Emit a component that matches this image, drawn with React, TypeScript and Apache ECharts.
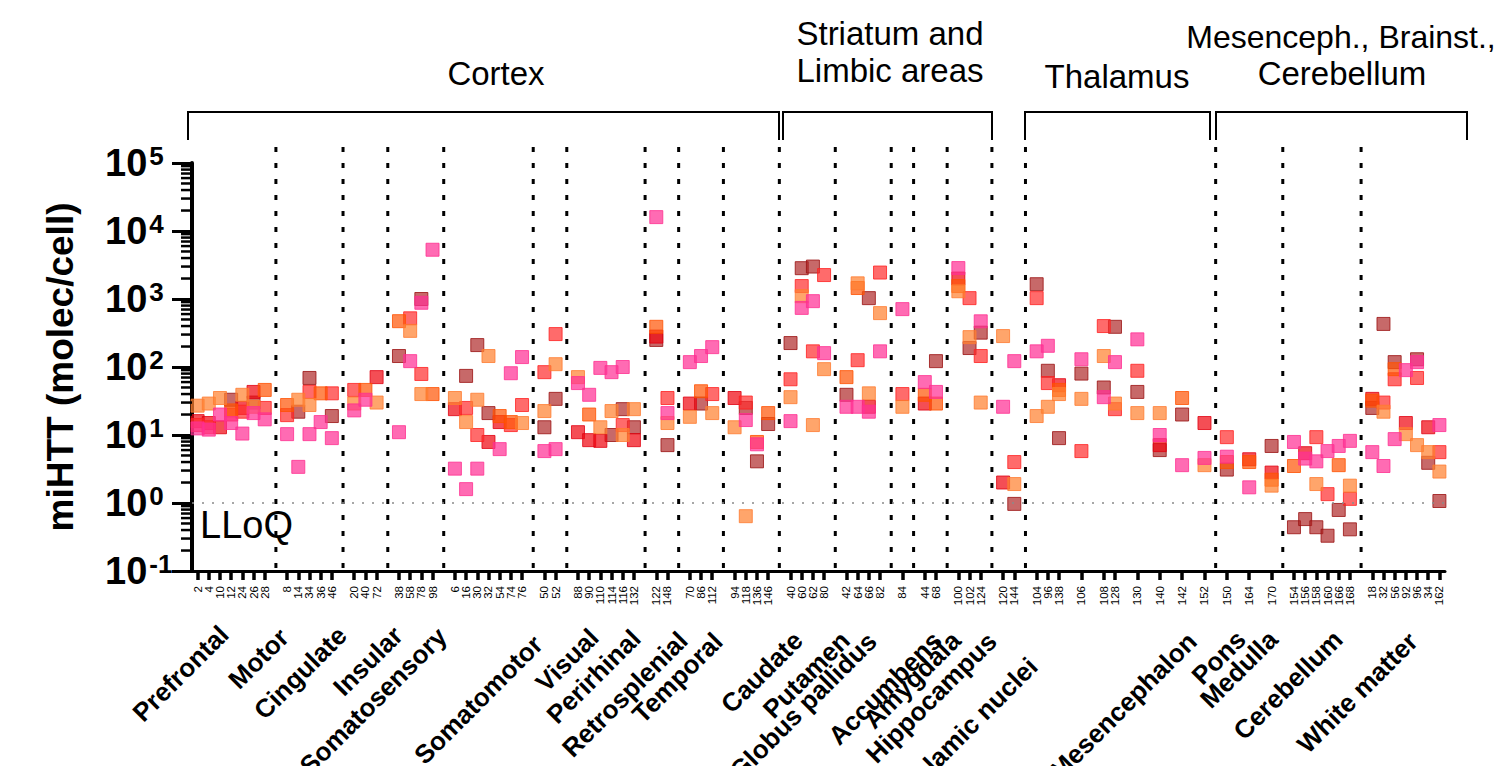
import React, { useEffect, useRef } from "react";
import * as echarts from "echarts";

const FONT = "'Liberation Sans', Arial, Helvetica, sans-serif";
const n = null;

// Sample IDs (x tick labels), one array per column group
const catGroups: string[][] = [
  ["2", "4", "10", "12", "24", "26", "28"],
  ["8", "14", "34", "36", "46"],
  ["20", "40", "72"],
  ["38", "58", "78", "98"],
  ["6", "16", "30", "32", "54", "74", "76"],
  ["50", "52"],
  ["88", "90", "110", "114", "116", "132"],
  ["122", "148"],
  ["70", "86", "112"],
  ["94", "118", "136", "146"],
  ["40", "60", "62", "80"],
  ["42", "64", "66", "82"],
  ["84"],
  ["44", "68"],
  ["100", "102", "124"],
  ["120", "144"],
  ["104", "96", "138"],
  ["106"],
  ["108", "128"],
  ["130"],
  ["140"],
  ["142"],
  ["152"],
  ["150"],
  ["164"],
  ["170"],
  ["154", "156", "158", "160", "166", "168"],
  ["18", "32", "56", "92", "96", "34", "162"],
];

// Region names (bottom, rotated 45°) and the end point of each label
const regionNames = [
  "Prefrontal", "Motor", "Cingulate", "Insular", "Somatosensory", "Somatomotor",
  "Visual", "Perirhinal", "Retrosplenial", "Temporal", "Caudate", "Putamen",
  "Globus pallidus", "Accumbens", "Amygdala", "Hippocampus", "Thalamic nuclei",
  "Mesencephalon", "Pons", "Medulla", "Cerebellum", "White matter",
];
const regionAnchors: [number, number][] = [
  [224, 630], [284, 633], [342, 631], [398, 631], [442, 632], [538, 640],
  [594, 633], [636, 634], [683, 636], [718, 637], [798, 636], [845, 636],
  [872, 637], [937, 636], [956, 636], [992, 637], [1033, 662],
  [1192, 637], [1241, 635], [1273, 635], [1338, 635], [1413, 637],
];

// Separator positions (slot index of the gaps between regions)
const separatorSlots = [7.4, 13, 17, 22, 30, 33, 40, 43, 47, 52, 57, 62, 64, 67, 71, 74, 91, 97, 104];

// miHTT values (molecules/cell), one array per animal, in sample order
const darkRed = [n, n, n, 33, n, 30, n, n, 22, 69, n, 19, n, n, n, 145, n, 1000, n, n, 74, 210, 21, n, n, n, 13, 34, n, n, n, 10, 24, 13, 250, 7.1, n, 29, n, n, 25, 4.1, 14.5, 225, 2840, 3000, n, 39, n, 1030, n, n, n, 122, n, 190, 320, n, 0.97, 1650, 88, 9, 80, 50, 390, 43, 6, 20, n, 3.1, n, 6.9, 0.44, 0.58, 0.44, 0.33, 0.79, 0.41, 25, 430, 118, n, 130, 3.9, 1.07];
const red = [16, 15, 13, n, 25, 43, n, n, n, n, n, n, n, n, 71, n, n, n, n, 24, n, n, 7.9, 15.5, n, n, n, n, 11, 8.4, 8.2, n, n, 8.4, 280, n, 29, n, n, 35, n, n, n, n, n, n, n, n, n, 26, n, n, 29, n, 2000, n, n, 2.0, n, n, n, 54, n, n, n, n, 7.1, n, 15, n, 4.4, 2.8, n, 5.4, n, n, n, n, 34, n, n, 15, n, 13, n];
const coral = [14, 13, n, 20, 22, n, 25, 19.6, n, 43, n, 41, 46, n, n, n, 520, 79, n, n, 25, 10, n, n, 14, 27.6, 84, 305, n, n, n, n, 14, n, n, 35, n, n, 40, n, 30, n, n, 66, 1550, 170, 2250, n, 126, n, 2450, 40, n, n, n, 1030, 145, n, 4.0, 1030, 58, n, 5.8, 400, 24, 88, n, n, n, 9.3, n, n, n, n, 9.3, 1.35, n, 1.15, n, 30, 66, n, 69, n, 5.6];
const orangeRed = [n, n, n, 23, n, n, 46, 27.6, n, n, 41, n, n, 46, n, 472, n, n, 40, n, n, n, n, 19, 15.5, n, n, n, n, 20, n, n, n, n, 390, n, n, 44, n, n, n, 7.9, 21, n, n, n, n, 71, 1450, n, n, n, 39, 29, 1550, n, n, n, n, n, n, 46, n, n, n, n, n, 35, n, 4, 4, 2.2, 3.5, n, n, n, 3.6, n, 32, n, 93, n, n, n, n];
const orange = [27, 29, 35, n, 39, 26, n, n, 33, 27.6, n, n, 29, n, 30, n, 340, 40, n, 35, 15.5, 33, 145, n, n, 15, 22.5, 110, 71, n, 13, 22.5, 10, 24, n, 15, 18.5, n, 21, 13, 0.64, n, n, 36, 1100, 14, 93, n, 1700, 41, 620, 26, n, n, 1300, 275, 30, 285, 1.9, 19, 26, 40, 34, 145, 29, 21, 21, n, 3.6, n, n, 1.8, n, n, 1.9, n, n, 1.8, n, 22, n, 10.3, 7.1, 5.6, 2.9];
const pink = [12.5, 12, 20, 15, 10.5, 21, 17, 10.3, 3.4, 10.3, 15.5, 9, 23, 33, n, 11, 122, 880, 5300, 3.2, 1.6, 3.2, n, 6.2, 81, 140, 5.8, 6.2, 58, 39, 97, 84, 100, n, 16000, 21, 118, 145, 196, n, 16.6, 7.3, n, 16, 740, 930, 160, 26, 26, 22, 170, 710, 60, 43, 2850, n, 470, 26, 122, 170, 205, n, 130, 36, 118, 255, 10, 3.6, 4.6, 4.8, 1.7, n, 7.9, 4.5, 4.1, 5.8, 6.9, 8.2, 5.6, 3.5, 8.7, 90, 118, n, 14];

const animals = [
  { name: "Animal A", values: darkRed, fill: "rgba(172,34,34,0.85)", stroke: "#9a1010" },
  { name: "Animal B", values: red, fill: "rgba(240,10,20,0.9)", stroke: "#e00010" },
  { name: "Animal C", values: coral, fill: "rgba(255,45,45,0.88)", stroke: "#ff2020" },
  { name: "Animal D", values: orangeRed, fill: "rgba(255,85,5,0.88)", stroke: "#ff5000" },
  { name: "Animal E", values: orange, fill: "rgba(255,130,50,0.9)", stroke: "#ff7a30" },
  { name: "Animal F", values: pink, fill: "rgba(255,50,150,0.9)", stroke: "#ff3090" },
];

const yTickValues = [0.1, 1, 10, 100, 1000, 10000];
const minorMultipliers = [2, 3, 4, 5, 6, 7, 8, 9];

export default function App() {
  const ref = useRef<HTMLDivElement>(null);
  useEffect(() => {
    const chart = echarts.init(ref.current!, null, { renderer: "svg" });

    const xLabels: string[] = [];
    const catSlot: number[] = [];
    catGroups.forEach((g, gi) => {
      if (gi > 0) xLabels.push("");
      g.forEach((c) => {
        catSlot.push(xLabels.length);
        xLabels.push(c);
      });
    });

    const minorData: number[][] = [];
    yTickValues.forEach((d) => minorMultipliers.forEach((m) => minorData.push([0, d * m])));

    const scatterSeries = animals.map((a, si) => ({
      type: "scatter",
      name: a.name,
      symbol: "rect",
      symbolSize: 13,
      z: 3,
      data: a.values
        .map((v, i) => (v == null ? null : [catSlot[i], v]))
        .filter((d) => d !== null),
      itemStyle: { color: a.fill, borderColor: a.stroke, borderWidth: 1 },
      markLine:
        si === 0
          ? {
              silent: true,
              symbol: "none",
              label: { show: false },
              lineStyle: { type: [2, 8], color: "#8a8a8a", width: 1.5 },
              data: [{ yAxis: 1 }],
            }
          : undefined,
    }));

    const txt = (text: string, x: number, y: number, size: number) => ({
      type: "text",
      x,
      y,
      style: { text, font: `${size}px ${FONT}`, fill: "#000", align: "center", verticalAlign: "middle" },
    });
    const bracket = (x1: number, x2: number) => ({
      type: "polyline",
      shape: { points: [[x1, 140], [x1, 112], [x2, 112], [x2, 140]] },
      style: { stroke: "#000", lineWidth: 2, fill: null },
    });

    const option: any = {
      animation: false,
      backgroundColor: "#fff",
      grid: { left: 192, top: 163, width: 1253, height: 408, containLabel: false },
      xAxis: {
        type: "category",
        data: xLabels,
        boundaryGap: true,
        axisLine: { show: true, lineStyle: { color: "#000", width: 3 } },
        axisTick: {
          show: true,
          alignWithLabel: true,
          interval: (i: number, v: string) => v !== "",
          length: 9,
          lineStyle: { color: "#000", width: 3.5 },
        },
        axisLabel: {
          interval: 0,
          rotate: 90,
          fontSize: 11.5,
          margin: 15,
          color: "#000",
          fontFamily: FONT,
        },
        splitLine: { show: false },
      },
      yAxis: {
        type: "log",
        logBase: 10,
        min: 0.1,
        max: 100000,
        interval: 1,
        name: "miHTT (molec/cell)",
        nameLocation: "middle",
        nameRotate: 90,
        nameGap: 113,
        nameTextStyle: { fontSize: 37, fontWeight: "bold", color: "#000", fontFamily: FONT },
        axisLine: { show: true, lineStyle: { color: "#000", width: 4 } },
        axisTick: { show: true, length: 20, lineStyle: { color: "#000", width: 3 } },
        splitLine: { show: false },
        axisLabel: {
          margin: 87,
          align: "left",
          color: "#000",
          formatter: (v: number) => {
            const e = Math.round(Math.log10(v));
            return "{b|10}{e|" + e + "}";
          },
          rich: {
            b: { fontSize: 38, fontWeight: "bold", fontFamily: FONT, color: "#000", lineHeight: 40 },
            e: { fontSize: 26, fontWeight: "bold", fontFamily: FONT, color: "#000", verticalAlign: "top", lineHeight: 26, padding: [0, 0, 0, 2] },
          },
        },
      },
      series: [
        ...scatterSeries,
        {
          type: "custom",
          name: "minor ticks",
          silent: true,
          z: 5,
          data: minorData,
          renderItem: (params: any, api: any) => {
            const y = api.coord([0, api.value(1)])[1];
            const cs = params.coordSys;
            return {
              type: "line",
              shape: { x1: cs.x - 11, y1: y, x2: cs.x, y2: y },
              style: { stroke: "#000", lineWidth: 2.5 },
            };
          },
        },
        {
          type: "custom",
          name: "separators",
          silent: true,
          z: 2,
          clip: false,
          data: separatorSlots.map((s) => [s, 1]),
          renderItem: (params: any, api: any) => {
            const x = api.coord([api.value(0), 1])[0];
            const cs = params.coordSys;
            return {
              type: "line",
              shape: { x1: x, y1: cs.y - 16, x2: x, y2: cs.y + cs.height + 6 },
              style: { stroke: "#000", lineWidth: 3, lineDash: [5, 11] },
            };
          },
        },
      ],
      graphic: [
        bracket(188, 779),
        bracket(783, 992),
        bracket(1025, 1210),
        bracket(1216, 1467),
        txt("Cortex", 496, 73, 33),
        txt("Striatum and", 890, 33, 33),
        txt("Limbic areas", 890, 70, 33),
        txt("Thalamus", 1117, 76, 33),
        txt("Mesenceph., Brainst.,", 1341, 37, 32),
        txt("Cerebellum", 1342, 73, 33),
        {
          type: "text",
          x: 200,
          y: 525,
          style: { text: "LLoQ", font: `38px ${FONT}`, fill: "#000", align: "left", verticalAlign: "middle" },
        },
        ...regionNames.map((name, i) => ({
          type: "text",
          x: regionAnchors[i][0],
          y: regionAnchors[i][1],
          rotation: Math.PI / 4,
          style: { text: name, font: `bold 26px ${FONT}`, fill: "#000", align: "right", verticalAlign: "middle" },
        })),
      ],
    };

    chart.setOption(option);
    return () => chart.dispose();
  }, []);
  return (
    <div
      ref={ref}
      style={{ position: "fixed", left: 0, top: 0, width: 1495, height: 766, background: "#fff" }}
    />
  );
}
